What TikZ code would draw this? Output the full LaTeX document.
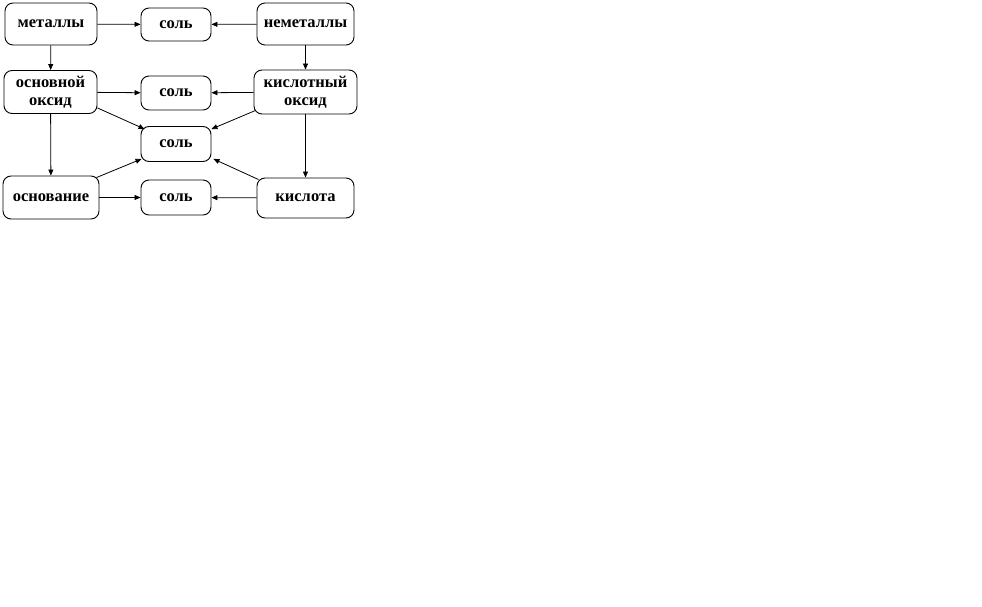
\documentclass[tikz,border=0pt]{standalone}
\usepackage{fontspec}
\setmainfont{Liberation Serif}
\usetikzlibrary{arrows.meta,calc}
\begin{document}
\begin{tikzpicture}[x=1pt,y=-1pt,
  box/.style={draw,line width=0.9pt,rounded corners=8pt,inner sep=0pt,align=center,
    font=\fontsize{16.5}{18}\selectfont\bfseries},
  arr/.style={line width=0.8pt,-{Triangle[length=6pt,width=5pt]}}]
\useasboundingbox (0,0) rectangle (982,607);
\node[box,minimum width=92pt,minimum height=42pt] (met) at (51,24) {металлы};
\node[box,minimum width=70pt,minimum height=33pt] (s1) at (176,24.5) {соль};
\node[box,minimum width=97pt,minimum height=42pt] (nem) at (305.5,24) {неметаллы};
\node[box,minimum width=93pt,minimum height=43pt] (osn) at (50.5,92) {основной\\оксид};
\node[box,minimum width=70pt,minimum height=34pt] (s2) at (176,93) {соль};
\node[box,minimum width=103pt,minimum height=44pt] (kis) at (305.5,92) {кислотный\\оксид};
\node[box,minimum width=70pt,minimum height=35pt] (s3) at (176,144) {соль};
\node[box,minimum width=96pt,minimum height=43pt] (osv) at (51,197.5) {основание};
\node[box,minimum width=70pt,minimum height=35pt] (s4) at (176,197.5) {соль};
\node[box,minimum width=97pt,minimum height=40pt] (kta) at (305.5,198) {кислота};
\draw[arr] (met) -- (s1);
\draw[arr] (nem) -- (s1);
\draw[arr] (osn) -- (s2);
\draw[arr] (kis) -- (s2);
\draw[arr] (osv) -- (s4);
\draw[arr] (kta) -- (s4);
\draw[arr] (met) -- (osn);
\draw[arr] (nem) -- (kis);
\draw[arr] (osn) -- (osv);
\draw[arr] (kis) -- (kta);
\draw[arr] ($(osn.south east)+(0,-6)$) -- ($(s3.north west)+(4,3)$);
\draw[arr] ($(kis.south west)+(2,-4)$) -- ($(s3.north east)+(0,3)$);
\draw[arr] ($(osv.north east)+(-3,2)$) -- ($(s3.south west)+(1,-3)$);
\draw[arr] ($(kta.north west)+(2,2)$) -- ($(s3.south east)+(2,-3)$);
\end{tikzpicture}
\end{document}
